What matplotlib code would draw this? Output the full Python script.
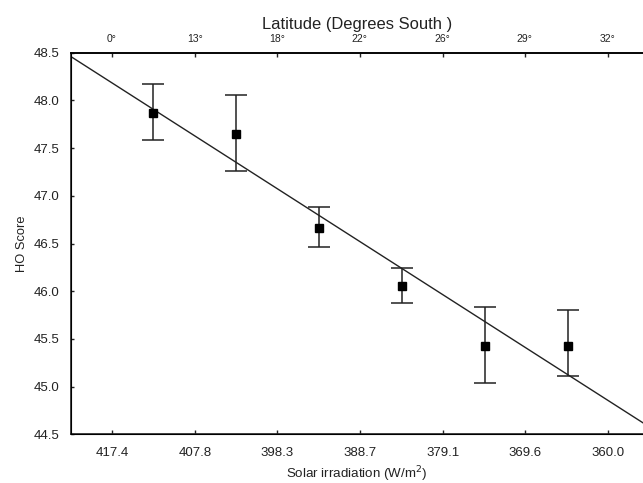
#!/usr/bin/env python3
"""HO score vs solar irradiation, with latitude on the top axis."""

import matplotlib
matplotlib.use("Agg")
import matplotlib.pyplot as plt
import numpy as np

plt.rcParams["font.family"] = ["Liberation Sans", "DejaVu Sans"]

# tick labels (bottom: irradiance, top: latitude)
irr_ticks = [417.4, 407.8, 398.3, 388.7, 379.1, 369.6, 360.0]
lat_labels = ["0°", "13°", "18°", "22°", "26°", "29°", "32°"]

# group means and error bar ends
irr = [412.6, 403.0, 393.4, 383.8, 374.2, 364.6]
ho_mean = [47.87, 47.65, 46.66, 46.05, 45.43, 45.43]
ho_upper = [48.17, 48.06, 46.88, 46.24, 45.83, 45.80]
ho_lower = [47.58, 47.26, 46.46, 45.88, 45.04, 45.11]


def main():
    x = np.array(irr); y = np.array(ho_mean)
    yerr = [y - np.array(ho_lower), np.array(ho_upper) - y]

    fig = plt.figure(figsize=(6.43, 4.83), dpi=100)
    ax = fig.add_axes([70.5 / 643, 1 - 434.3 / 483, 1 - 70.5 / 643, (434.3 - 52.7) / 483])
    xlim = (422.2, 355.9)

    # regression line across the full axis
    k, b = np.polyfit(x, y, 1)
    xx = np.array(xlim)
    ax.plot(xx, k * xx + b, color="#222222", lw=1.0)

    ax.errorbar(x, y, yerr=yerr, fmt="s", color="black", ms=5.5, ecolor="#222222",
                elinewidth=1.1, capsize=8, capthick=1.1)

    ax.set_xlim(*xlim); ax.set_ylim(44.5, 48.5)
    ax.set_xticks(irr_ticks); ax.set_xticklabels([f"{v:.1f}" for v in irr_ticks])
    yt = np.arange(44.5, 48.51, 0.5)
    ax.set_yticks(yt); ax.set_yticklabels([f"{v:.1f}" for v in yt])
    ax.tick_params(axis="x", direction="in", length=3, width=1, pad=9, labelsize=9.5, colors="#222222")
    ax.tick_params(axis="y", direction="in", length=2, width=1, pad=8, labelsize=9.5, colors="#222222")
    ax.spines["right"].set_visible(False)
    for s in ("left", "bottom", "top"):
        ax.spines[s].set_linewidth(1.2); ax.spines[s].set_color("#222222")
    ax.set_xlabel("Solar irradiation (W/m$^2$)", fontsize=9.6, color="#222222", labelpad=4)
    ax.set_ylabel("HO Score", fontsize=9.3, color="#222222", labelpad=4)

    top = ax.twiny()
    top.set_xlim(ax.get_xlim())
    top.set_xticks(irr_ticks); top.set_xticklabels(lat_labels)
    top.tick_params(axis="x", direction="in", length=3, width=1, pad=6, labelsize=7.5, colors="#222222")
    top.spines["right"].set_visible(False)
    top.spines["top"].set_linewidth(1.2)
    top.set_xlabel("Latitude (Degrees South )", fontsize=11.9, color="#222222", labelpad=4)

    fig.savefig("out.png", dpi=100)
    plt.close(fig)


if __name__ == "__main__":
    main()
